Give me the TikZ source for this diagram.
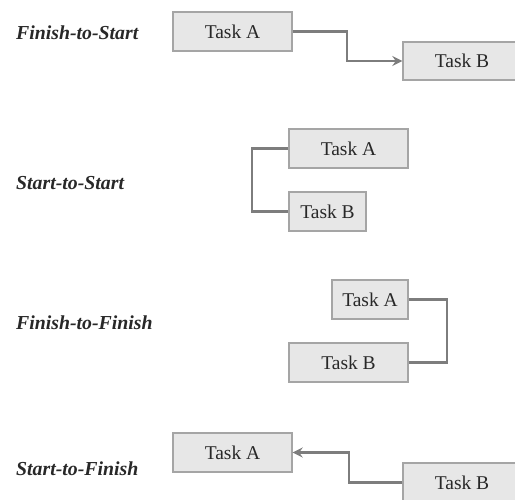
\documentclass[tikz,border=0pt]{standalone}
\usepackage{fontspec}
\setmainfont{Liberation Serif}
\usetikzlibrary{arrows.meta}
\definecolor{boxfill}{RGB}{231,231,231}
\definecolor{boxline}{RGB}{165,165,165}
\definecolor{linkcol}{RGB}{125,125,125}
\definecolor{txt}{RGB}{40,40,40}
\tikzset{
  taskbox/.style={draw=boxline, line width=1.4pt, fill=boxfill, inner sep=0pt,
    minimum height=39pt, text=txt, font=\fontsize{19.5}{21}\selectfont},
  wide/.style={minimum width=119pt},
  narrow/.style={minimum width=77pt},
  lbl/.style={anchor=west, inner sep=0pt, text=txt,
    font=\fontsize{19.8}{22}\selectfont\bfseries\itshape},
  link/.style={draw=linkcol, line width=2.2pt},
  linkarrow/.style={link, -{Stealth[length=10pt, width=10pt, inset=3.5pt]}}
}
\begin{document}
\begin{tikzpicture}[x=1pt, y=-1pt]
\useasboundingbox (0,0) rectangle (515,499);
\clip (0,0) rectangle (515,499);
\fill[white] (0,0) rectangle (515,499);

% Finish-to-Start
\node[lbl] (L1) at (16,33) {Finish-to-Start};
\node[taskbox, wide] (A1) at (232.5,31.5) {Task A};
\node[taskbox, minimum width=118pt, minimum height=38pt] (B1) at (462,61) {Task B};
\coordinate (m1) at (347,0);
\draw[linkarrow] (A1.east) -- (A1.east -| m1) |- (B1.west);

% Start-to-Start
\node[lbl] (L2) at (16,183) {Start-to-Start};
\node[taskbox, wide] (A2) at (348.5,148.5) {Task A};
\node[taskbox, narrow] (B2) at (327.5,211.5) {Task B};
\coordinate (m2) at (252,0);
\draw[link] (A2.west) -- (A2.west -| m2) |- (B2.west);

% Finish-to-Finish
\node[lbl] (L3) at (16,323) {Finish-to-Finish};
\node[taskbox, minimum width=76pt] (A3) at (370,299.5) {Task A};
\node[taskbox, wide] (B3) at (348.5,362.5) {Task B};
\coordinate (m3) at (447,0);
\draw[link] (A3.east) -- (A3.east -| m3) |- (B3.east);

% Start-to-Finish
\node[lbl] (L4) at (16,469) {Start-to-Finish};
\node[taskbox, wide] (A4) at (232.5,452.5) {Task A};
\node[taskbox, minimum width=118pt] (B4) at (462,482.5) {Task B};
\coordinate (m4) at (349,0);
\draw[linkarrow] (B4.west) -- (B4.west -| m4) |- (A4.east);
\end{tikzpicture}
\end{document}
